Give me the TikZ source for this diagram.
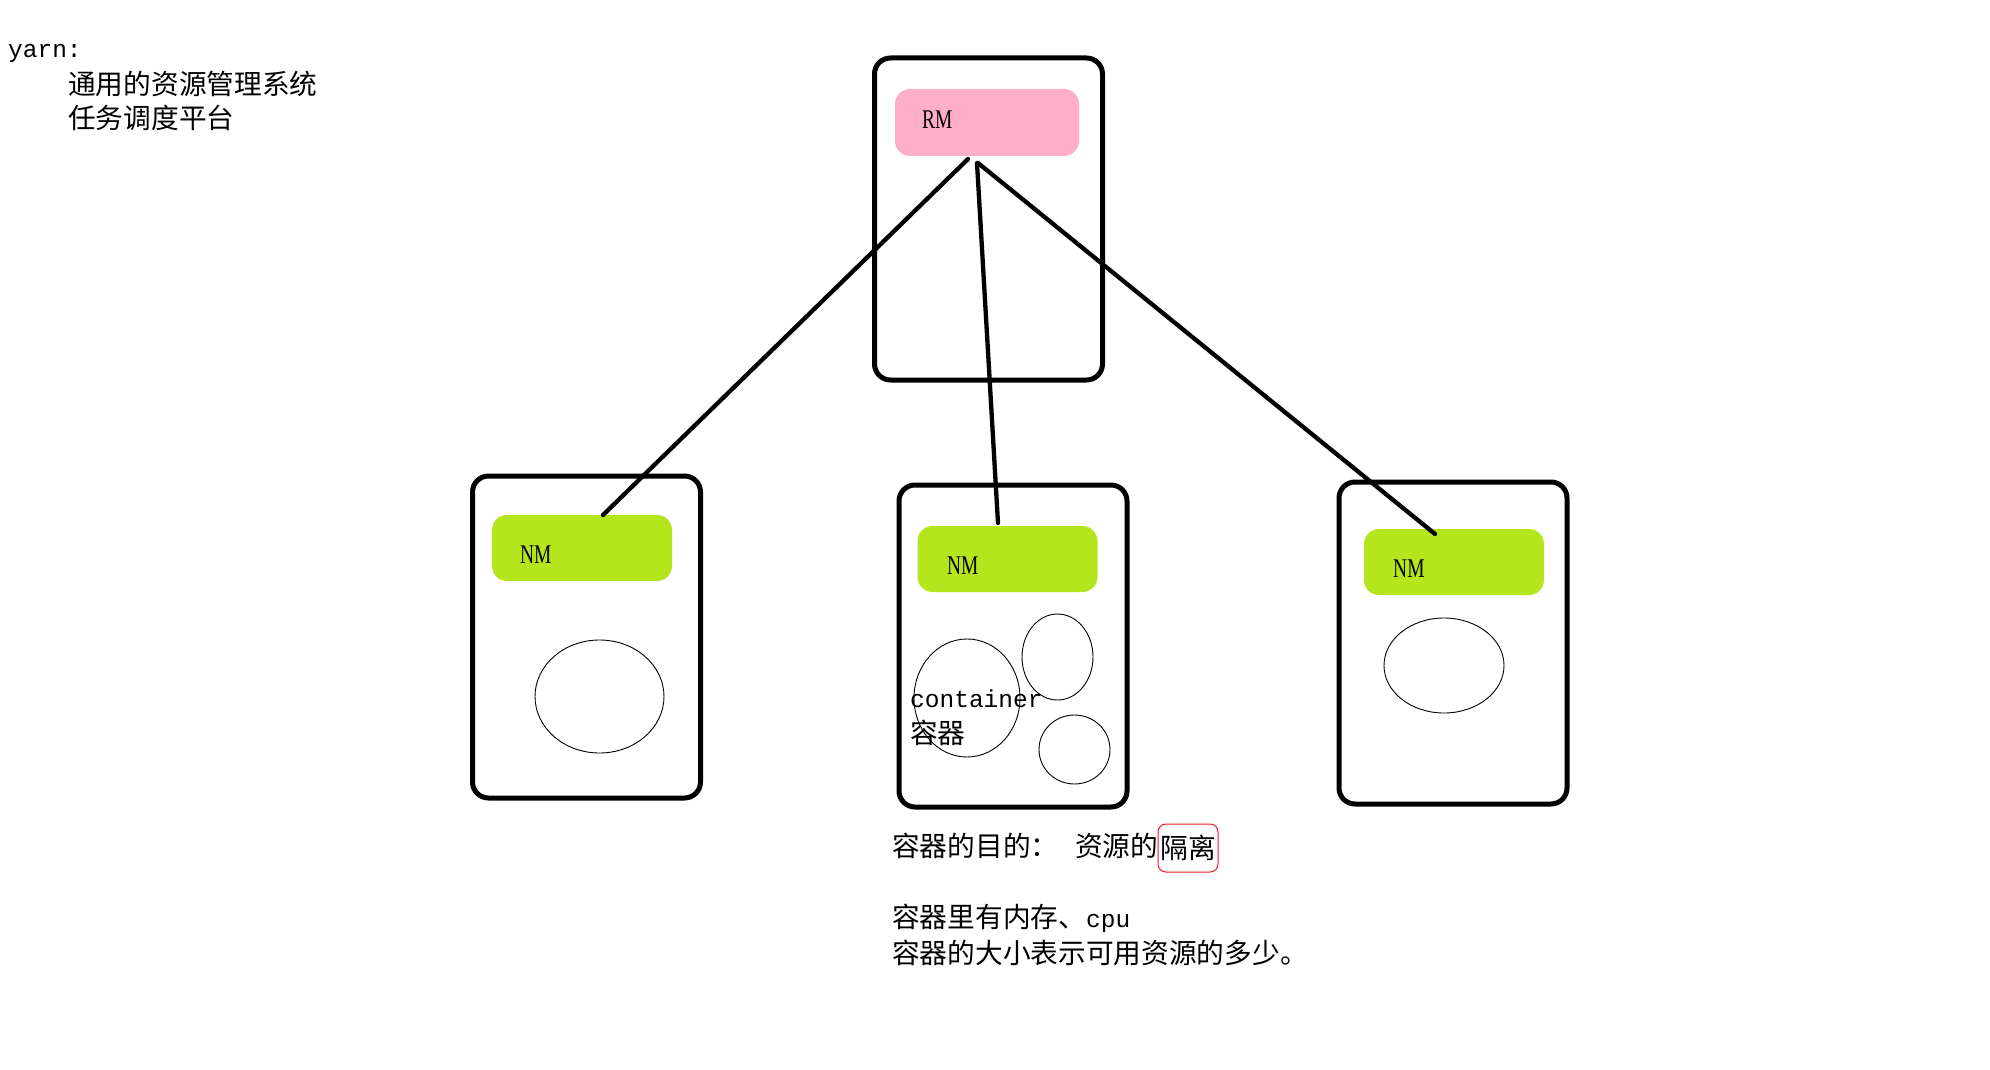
\documentclass[tikz,border=0pt]{standalone}
\usepackage{fontspec}
\usepackage{graphicx}
\usetikzlibrary{shapes.geometric}
\newfontfamily\cjk{Noto Sans CJK SC}
\newfontfamily\mono{Liberation Mono}
\newfontfamily\tms{Liberation Serif}
\definecolor{paintlime}{HTML}{B5E61D}
\definecolor{paintrose}{HTML}{FFAEC9}
\definecolor{paintred}{HTML}{ED1C24}
\begin{document}
\begin{tikzpicture}[x=1pt,y=-1pt,
  machine/.style={draw=black, line width=5pt, rounded corners=16pt, inner sep=0pt,
    minimum width=228pt, minimum height=322pt},
  daemon/.style={rounded corners=15pt, inner sep=0pt, minimum height=66pt},
  nmbox/.style={daemon, fill=paintlime, minimum width=180pt},
  rmbox/.style={daemon, fill=paintrose, minimum width=184pt, minimum height=67pt},
  lbl/.style={inner sep=0pt, anchor=base west, font=\tms\fontsize{27}{27}\selectfont},
  cont/.style={draw=black, line width=0.9pt, ellipse, inner sep=0pt},
  cjktext/.style={inner sep=0pt, anchor=base west, font=\cjk\fontsize{27.7}{33}\selectfont},
  monotext/.style={inner sep=0pt, anchor=base west, font=\mono\fontsize{24.5}{30}\selectfont},
  link/.style={draw=black, line width=4.3pt, line cap=round}
]
\useasboundingbox (0,0) rectangle (1990,1070);
\fill[white] (0,0) rectangle (1990,1070);

% machines
\node[machine] (rmhost) at (988.5,219) {};
\node[machine] (hostL) at (586.5,637) {};
\node[machine] (hostM) at (1013,646) {};
\node[machine] (hostR) at (1453,643) {};

% daemons
\node[rmbox] (rm) at (987,122.5) {};
\node[nmbox] (nmL) at (582,548) {};
\node[nmbox] (nmM) at (1007.5,559) {};
\node[nmbox] (nmR) at (1454,562) {};

\node[lbl] (rmt) at (922,129) {\scalebox{0.72}[1]{RM}};
\node[lbl] (nmLt) at (520,563) {\scalebox{0.72}[1]{NM}};
\node[lbl] (nmMt) at (947,574) {\scalebox{0.72}[1]{NM}};
\node[lbl] (nmRt) at (1393,577) {\scalebox{0.72}[1]{NM}};

% containers
\node[cont, minimum width=129pt, minimum height=113pt] (cL) at (599.5,696.5) {};
\node[cont, minimum width=106pt, minimum height=118pt] (cM1) at (967,698) {};
\node[cont, minimum width=71pt, minimum height=86pt] (cM2) at (1057.5,657) {};
\node[cont, minimum width=71pt, minimum height=69pt] (cM3) at (1074.5,749.5) {};
\node[cont, minimum width=120pt, minimum height=95pt] (cR) at (1444,665.5) {};

\node[monotext] (contt) at (910,707) {container};
\node[cjktext] (contc) at (910,743.5) {容器};

% connectors
\coordinate (rmL) at (968,159);
\coordinate (rmM) at (977,163);
\coordinate (rmR) at (978,163);
\coordinate (endL) at (603,515);
\coordinate (endM) at (998,523);
\coordinate (endR) at (1435,534);
\draw[link] (rmL) -- (endL);
\draw[link] (rmM) -- (endM);
\draw[link] (rmR) -- (endR);

% top-left text
\node[monotext] (yarn) at (8,58) {yarn:};
\node[cjktext] (t1) at (68,95) {通用的资源管理系统};
\node[cjktext] (t2) at (68,128.5) {任务调度平台};

% bottom text
\node[cjktext] (b1) at (892,856.5) {容器的目的：};
\node[cjktext] (b2) at (1075,856.5) {资源的};
\node[draw=paintred, line width=1pt, rounded corners=8pt, inner sep=0pt,
  minimum width=60pt, minimum height=48pt,
  font=\cjk\fontsize{27.7}{33}\selectfont] (iso) at (1188,848) {隔离};
\node[cjktext] (b3) at (892,927) {容器里有内存、{\mono\fontsize{24.5}{30}\selectfont cpu}};
\node[cjktext] (b4) at (892,963) {容器的大小表示可用资源的多少。};
\end{tikzpicture}
\end{document}
